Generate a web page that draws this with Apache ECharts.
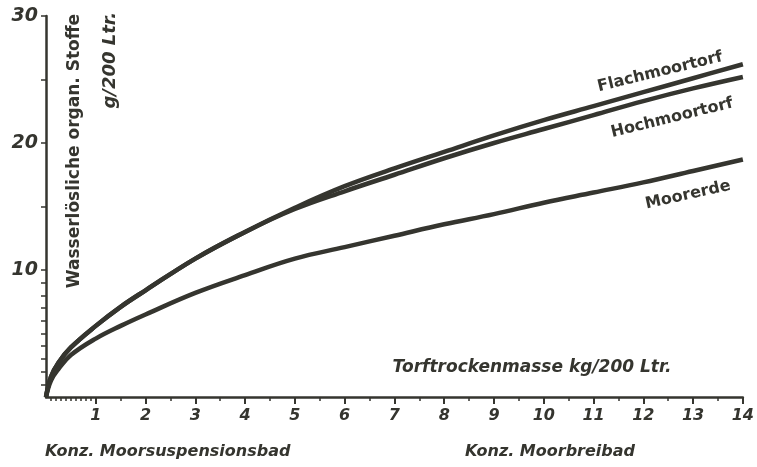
<!DOCTYPE html>
<html><head><meta charset="utf-8">
<script src="https://cdn.jsdelivr.net/npm/echarts@6/dist/echarts.min.js"></script>
<style>html,body{margin:0;padding:0;background:#fff}#c{width:757px;height:467px}</style>
</head><body><div id="c"></div>
<script>
// ---- data ----
const xValues      = [0, 0.1, 0.25, 0.5, 1, 1.5, 2, 3, 4, 5, 6, 7, 8, 9, 10, 11, 12, 13, 14];
const flachmoortorf = [0, 1.6, 2.7, 3.9, 5.6, 7.1, 8.4, 10.9, 13.0, 14.9, 16.6, 18.0, 19.3, 20.6, 21.8, 22.9, 24.0, 25.1, 26.2];
const hochmoortorf  = [0, 1.6, 2.7, 3.9, 5.6, 7.1, 8.4, 10.9, 13.0, 14.8, 16.2, 17.5, 18.8, 20.0, 21.1, 22.2, 23.3, 24.3, 25.2];
const moorerde      = [0, 1.3, 2.2, 3.3, 4.6, 5.6, 6.5, 8.2, 9.6, 10.9, 11.8, 12.7, 13.6, 14.4, 15.3, 16.1, 16.9, 17.8, 18.7];
const xTickLabels   = [1,2,3,4,5,6,7,8,9,10,11,12,13,14];
const xMinorTicks   = [0.1,0.2,0.3,0.4,0.5,0.6,0.7,0.8,0.9,1.5,2.5,3.5,4.5,5.5,6.5,7.5,8.5,9.5,10.5,11.5,12.5,13.5];
const yTickLabels   = [10,20,30];
const yTicks        = [1,2,3,4,5,6,7,8,9,10,15,20,25,30];
const seriesNames   = ['Flachmoortorf','Hochmoortorf','Moorerde'];

const ink = '#35352f';
const FONT = 'DejaVu Sans';
function pairs(ys){ return xValues.map((x,i)=>[x, ys[i]]); }

const chart = echarts.init(document.getElementById('c'), null, {renderer:'canvas'});
chart.setOption({
  animation:false,
  backgroundColor:'#fff',
  grid:{left:46, right:11, top:16, bottom:70},
  xAxis:[{
    type:'value', min:0, max:14,
    axisLine:{show:true, onZero:false, lineStyle:{color:ink, width:2.5}},
    axisTick:{show:true, length:7, customValues:xTickLabels, lineStyle:{color:ink, width:2}},
    axisLabel:{customValues:xTickLabels, color:ink, fontFamily:FONT, fontStyle:'italic', fontWeight:'bold', fontSize:16, margin:11},
    splitLine:{show:false}
  },{
    type:'value', min:0, max:14, position:'bottom',
    axisLine:{show:false},
    axisTick:{show:true, length:4, customValues:xMinorTicks, lineStyle:{color:ink, width:1.5}},
    axisLabel:{show:false}, splitLine:{show:false}
  }],
  yAxis:{
    type:'value', min:0, max:30,
    axisLine:{show:true, onZero:false, lineStyle:{color:ink, width:2.5}},
    axisTick:{show:true, length:5, customValues:yTicks, lineStyle:{color:ink, width:1.5}},
    axisLabel:{customValues:yTickLabels, color:ink, fontFamily:FONT, fontStyle:'italic', fontWeight:'bold', fontSize:19, margin:8},
    splitLine:{show:false}
  },
  series:[flachmoortorf, hochmoortorf, moorerde].map((d,i)=>({
    name:seriesNames[i], type:'line', data:pairs(d), smooth:0.4, showSymbol:false,
    lineStyle:{color:ink, width:4.5}
  })),
  graphic:[
    {type:'text', x:75, y:14, rotation:Math.PI/2, style:{text:'Wasserlösliche organ. Stoffe', fill:ink, font:'bold 17px "DejaVu Sans"', textAlign:'right', textVerticalAlign:'middle'}},
    {type:'text', x:110, y:12, rotation:Math.PI/2, style:{text:'g/200 Ltr.', fill:ink, font:'italic bold 18px "DejaVu Sans"', textAlign:'right', textVerticalAlign:'middle'}},
    {type:'text', x:532, y:368, style:{text:'Torftrockenmasse kg/200 Ltr.', fill:ink, font:'italic bold 17px "DejaVu Sans"', textAlign:'center', textVerticalAlign:'middle'}},
    {type:'text', x:45, y:452, style:{text:'Konz. Moorsuspensionsbad', fill:ink, font:'italic bold 16px "DejaVu Sans"', textAlign:'left', textVerticalAlign:'middle'}},
    {type:'text', x:465, y:452, style:{text:'Konz. Moorbreibad', fill:ink, font:'italic bold 16px "DejaVu Sans"', textAlign:'left', textVerticalAlign:'middle'}},
    {type:'text', x:660, y:72, rotation:0.24, style:{text:seriesNames[0], fill:ink, font:'bold 16px "DejaVu Sans"', textAlign:'center', textVerticalAlign:'middle'}},
    {type:'text', x:672, y:118, rotation:0.24, style:{text:seriesNames[1], fill:ink, font:'bold 16px "DejaVu Sans"', textAlign:'center', textVerticalAlign:'middle'}},
    {type:'text', x:688, y:195, rotation:0.22, style:{text:seriesNames[2], fill:ink, font:'bold 16px "DejaVu Sans"', textAlign:'center', textVerticalAlign:'middle'}}
  ]
});
</script></body></html>
